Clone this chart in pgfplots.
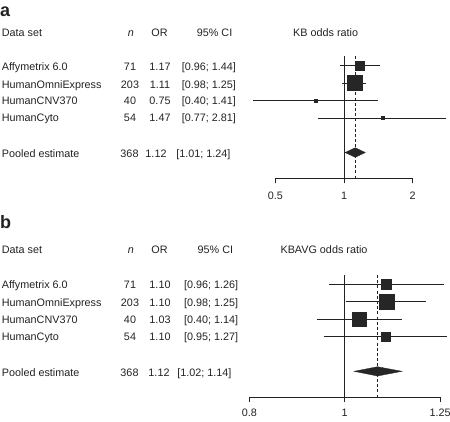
\documentclass[border=0pt]{standalone}
\usepackage{fontspec}
\setmainfont{Liberation Sans}
\usepackage{pgfplots}
\pgfplotsset{compat=1.18}
\definecolor{ink}{HTML}{222222}
\definecolor{sq}{HTML}{262626}
\newcommand{\fs}{\fontsize{10.8bp}{13bp}\selectfont}
\pgfplotsset{
  whisk/.style={ink, line width=0.8bp, no marks},
  sqbox/.style={only marks, mark=square*, mark options={fill=sq, draw=sq, line width=0.2bp}},
}
\begin{document}
\begin{tikzpicture}[x=1bp,y=1bp, every node/.style={inner sep=0pt, font=\fs, text=ink}]
\path[use as bounding box] (0,0) rectangle (450,-421);
%% ---------------- panel a text
\node[anchor=base west, font=\fontsize{18bp}{18bp}\selectfont\bfseries] at (0,-16.7) {a};
\node[anchor=base west] at (1.7,-36) {Data set};
\node[anchor=base] at (131,-36) {\itshape n};
\node[anchor=base] at (159.5,-36) {OR};
\node[anchor=base east] at (232.5,-36) {95\% CI};
\node[anchor=base] at (325.6,-36) {KB odds ratio};
\foreach \lab/\n/\o/\ci/\yy in {Affymetrix 6.0/71/1.17/{[0.96; 1.44]}/70.7,
  HumanOmniExpress/203/1.11/{[0.98; 1.25]}/88.3,
  HumanCNV370/40/0.75/{[0.40; 1.41]}/104.5,
  HumanCyto/54/1.47/{[0.77; 2.81]}/121.7}{
  \node[anchor=base west] at (1.7,-\yy) {\lab};
  \node[anchor=base] at (130,-\yy) {\n};
  \node[anchor=base] at (160,-\yy) {\o};
  \node[anchor=base east] at (236,-\yy) {\ci};
}
\node[anchor=base west] at (1.7,-157.8) {Pooled estimate};
\node[anchor=base] at (129.5,-157.8) {368};
\node[anchor=base] at (156,-157.8) {1.12};
\node[anchor=base east] at (230.7,-157.8) {[1.01; 1.24]};
%% ---------------- panel a plot
\begin{axis}[xmode=log, scale only axis, clip=false,
  axis x line=bottom, axis y line=none,
  axis line style={-, line width=1bp, ink},
  tick align=outside, major tick length=4.8bp,
  tick style={line width=1bp, ink},
  minor tick num=0, ytick=\empty,
  xticklabel style={anchor=base, font=\fs, text=ink, inner sep=0pt, yshift=-16.5bp},
  at={(275.3bp,-178.5bp)}, anchor=south west,
  width=137.4bp, height=122.5bp, xmin=0.5, xmax=2, ymin=-178.5, ymax=-56,
  xtick={0.5,1,2}, xticklabels={0.5,1,2}]
\addplot[ink, line width=1bp, no marks] coordinates {(1,-56) (1,-178.5)};
\addplot[ink, line width=0.9bp, no marks, dash pattern=on 3bp off 2.2bp] coordinates {(1.12,-56) (1.12,-178.5)};
\addplot[whisk] coordinates {(0.96,-65.7) (1.44,-65.7)};
\addplot[whisk] coordinates {(0.98,-83) (1.25,-83)};
\addplot[whisk] coordinates {(0.40,-100.5) (1.41,-100.5)};
\addplot[whisk] coordinates {(0.77,-118) (2.81,-118)};
\addplot[sqbox, mark size=4.8bp] coordinates {(1.17,-65.7)};
\addplot[sqbox, mark size=7.5bp] coordinates {(1.11,-83)};
\addplot[sqbox, mark size=1.5bp] coordinates {(0.75,-100.5)};
\addplot[sqbox, mark size=1.5bp] coordinates {(1.47,-118)};
\addplot[fill=sq, draw=sq, line width=0.3bp] coordinates {(1.01,-152.5) (1.12,-147.7) (1.24,-152.5) (1.12,-157.3)} -- cycle;
\end{axis}
%% ---------------- panel b text
\node[anchor=base west, font=\fontsize{18bp}{18bp}\selectfont\bfseries] at (0,-228.3) {b};
\node[anchor=base west] at (1.7,-253.5) {Data set};
\node[anchor=base] at (131,-253.5) {\itshape n};
\node[anchor=base] at (159.5,-253.5) {OR};
\node[anchor=base east] at (233.3,-253.5) {95\% CI};
\node[anchor=base] at (324,-253.5) {KBAVG odds ratio};
\foreach \lab/\n/\o/\ci/\yy in {Affymetrix 6.0/71/1.10/{[0.96; 1.26]}/288.3,
  HumanOmniExpress/203/1.10/{[0.98; 1.25]}/306,
  HumanCNV370/40/1.03/{[0.40; 1.14]}/323.3,
  HumanCyto/54/1.10/{[0.95; 1.27]}/340.7}{
  \node[anchor=base west] at (1.7,-\yy) {\lab};
  \node[anchor=base] at (130,-\yy) {\n};
  \node[anchor=base] at (160,-\yy) {\o};
  \node[anchor=base east] at (238.3,-\yy) {\ci};
}
\node[anchor=base west] at (1.7,-376.7) {Pooled estimate};
\node[anchor=base] at (129.5,-376.7) {368};
\node[anchor=base] at (159,-376.7) {1.12};
\node[anchor=base east] at (231.7,-376.7) {[1.02; 1.14]};
%% ---------------- panel b plot
\begin{axis}[xmode=log, scale only axis, clip=false,
  axis x line=bottom, axis y line=none,
  axis line style={-, line width=1bp, ink},
  tick align=outside, major tick length=4.8bp,
  tick style={line width=1bp, ink},
  minor tick num=0, ytick=\empty,
  xticklabel style={anchor=base, font=\fs, text=ink, inner sep=0pt, yshift=-14.5bp},
  at={(249.3bp,-397.3bp)}, anchor=south west,
  width=190.7bp, height=122.3bp, xmin=0.8, xmax=1.25, ymin=-397.3, ymax=-275,
  xtick={0.8,1,1.25}, xticklabels={0.8,1,1.25}]
\addplot[ink, line width=1bp, no marks] coordinates {(1,-275) (1,-397.3)};
\addplot[ink, line width=0.9bp, no marks, dash pattern=on 3bp off 2.2bp] coordinates {(1.080,-275) (1.080,-397.3)};
\addplot[whisk] coordinates {(0.964,-284.3) (1.263,-284.3)};
\addplot[whisk] coordinates {(1.002,-301.7) (1.21,-301.7)};
\addplot[whisk] coordinates {(0.937,-319.3) (1.144,-319.3)};
\addplot[whisk] coordinates {(0.953,-336.7) (1.27,-336.7)};
\addplot[sqbox, mark size=5bp] coordinates {(1.103,-284.3)};
\addplot[sqbox, mark size=7.5bp] coordinates {(1.102,-301.7)};
\addplot[sqbox, mark size=7bp] coordinates {(1.035,-319.3)};
\addplot[sqbox, mark size=4.6bp] coordinates {(1.101,-336.7)};
\addplot[fill=sq, draw=sq, line width=0.3bp] coordinates {(1.022,-371.3) (1.080,-366.7) (1.144,-371.3) (1.080,-376)} -- cycle;
\end{axis}
\end{tikzpicture}
\end{document}
